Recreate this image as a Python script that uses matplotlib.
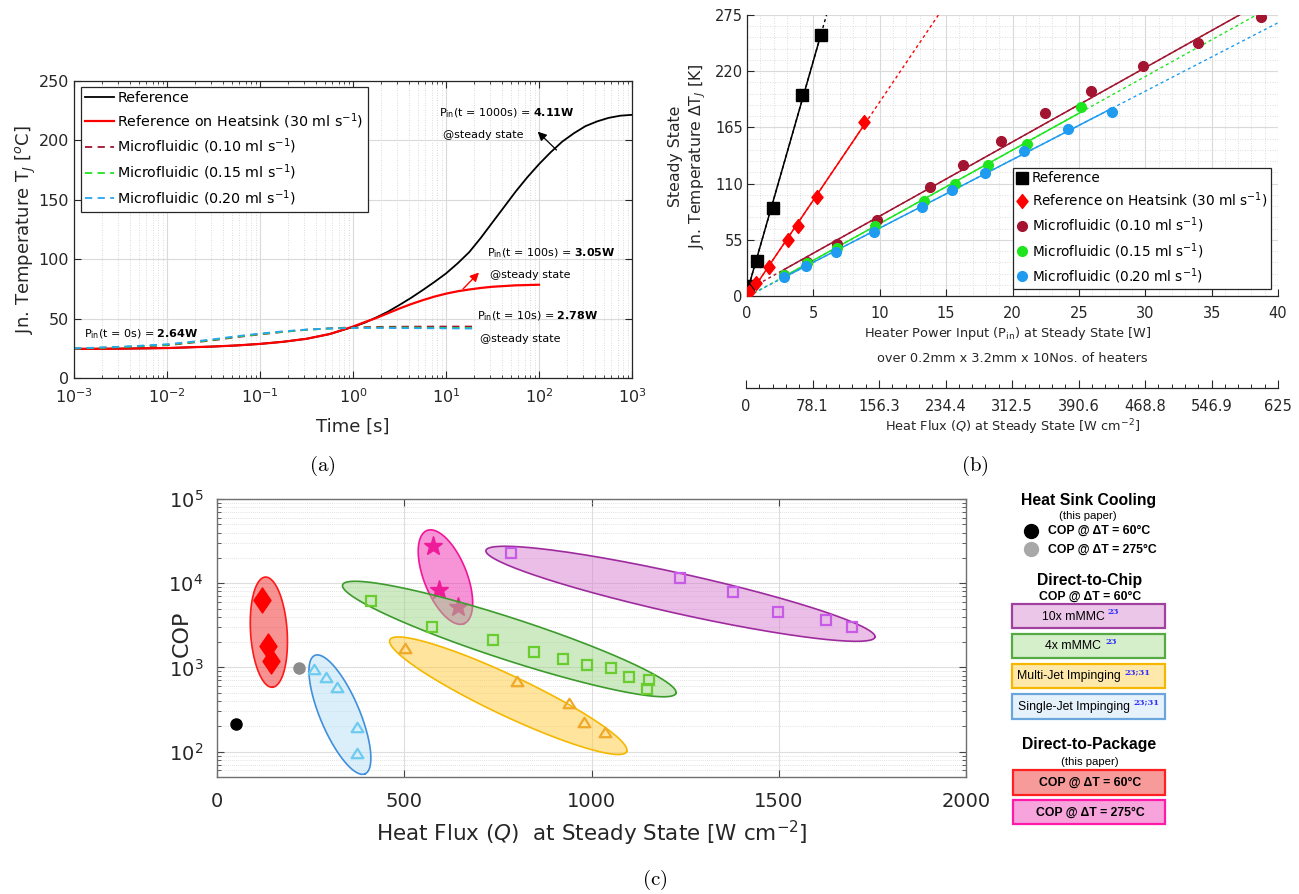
import numpy as np
import matplotlib
matplotlib.use("Agg")
import matplotlib.pyplot as plt
from matplotlib.ticker import MultipleLocator, LogLocator, NullFormatter
from matplotlib.patches import Rectangle
from matplotlib.lines import Line2D
from matplotlib.path import Path

# ======================= DATA =======================
# (a) transient junction temperature
t_ref = [0.001, 0.00316, 0.01, 0.0316, 0.0562, 0.1, 0.178, 0.316, 0.562, 1.0, 1.334, 1.78,
         2.371, 3.16, 4.217, 5.62, 7.499, 10, 13.34, 17.8, 23.71, 31.6, 42.17, 56.2, 74.99,
         100, 133.4, 178, 237.1, 316, 421.7, 562, 749.9, 1000]
T_ref = [24.5, 24.7, 25.2, 26.5, 27.4, 28.7, 30.5, 33.0, 37.0, 43.0, 46.5, 51.0,
         55.8, 61.5, 67.5, 74.0, 80.8, 88.0, 96.5, 106.0, 118.0, 131.0, 144.0, 157.0, 169.0,
         180.0, 190.0, 199.0, 206.0, 212.0, 216.0, 219.0, 220.8, 221.5]
t_hs = [0.001, 0.00316, 0.01, 0.0316, 0.0562, 0.1, 0.178, 0.316, 0.562, 1.0, 1.334, 1.78,
        2.371, 3.16, 4.217, 5.62, 7.499, 10, 13.34, 17.8, 23.71, 31.6, 56.2, 100]
T_hs = [24.5, 24.7, 25.2, 26.5, 27.4, 28.7, 30.5, 33.0, 37.0, 43.3, 47.0, 50.5,
        54.5, 58.5, 62.2, 65.5, 68.5, 71.0, 73.0, 74.5, 75.8, 76.8, 78.0, 78.5]
t_mf = [0.001, 0.00316, 0.01, 0.0178, 0.0316, 0.0562, 0.1, 0.178, 0.316, 0.562,
        1.0, 1.78, 3.16, 10, 20]
T_mf10 = [24.8, 25.8, 27.6, 29.6, 31.8, 34.4, 36.7, 38.8, 40.6, 41.8, 42.6, 43.0, 43.2, 43.3, 43.3]
T_mf15 = [24.8, 26.0, 28.0, 30.0, 32.2, 34.8, 37.0, 39.0, 40.6, 41.6, 42.2, 42.4, 42.4, 42.2, 42.0]
T_mf20 = [24.9, 26.3, 28.4, 30.4, 32.6, 35.2, 37.4, 39.3, 40.8, 41.7, 42.1, 42.1, 42.0, 41.8, 41.6]
a_labels = ['Reference', 'Reference on Heatsink (30 ml s$^{-1}$)',
            'Microfluidic (0.10 ml s$^{-1}$)', 'Microfluidic (0.15 ml s$^{-1}$)',
            'Microfluidic (0.20 ml s$^{-1}$)']

# (b) steady-state junction temperature rise vs heater power
b_ref_p = [0.05, 0.73, 1.93, 4.17, 5.58]
b_ref_t = [10.1, 34.6, 85.8, 196.7, 255.4]
b_hs_p = [0.16, 0.69, 1.62, 3.06, 3.84, 5.27, 8.80]
b_hs_t = [3.9, 12.4, 28.3, 54.7, 68.3, 97.0, 170.2]
b_m10_p = [2.75, 4.52, 6.80, 9.77, 13.76, 16.26, 19.10, 22.43, 25.90, 29.80, 34.0, 38.72]
b_m10_t = [20.2, 33.5, 51.1, 74.2, 106.7, 128.5, 151.3, 179.0, 201.1, 225.5, 248.0, 273.4]
b_m15_p = [2.75, 4.52, 6.77, 9.67, 13.32, 15.66, 18.19, 21.12, 25.18]
b_m15_t = [20.8, 32.5, 47.2, 68.3, 93.4, 110.0, 127.9, 148.7, 184.9]
b_m20_p = [2.78, 4.46, 6.68, 9.55, 13.17, 15.44, 17.94, 20.90, 24.15, 27.46]
b_m20_t = [18.6, 29.3, 43.0, 62.5, 87.2, 104.1, 120.4, 142.2, 163.0, 179.6]
b_labels = ['Reference', 'Reference on Heatsink (30 ml s$^{-1}$)',
            'Microfluidic (0.10 ml s$^{-1}$)', 'Microfluidic (0.15 ml s$^{-1}$)',
            'Microfluidic (0.20 ml s$^{-1}$)']
hf_labels = ['0', '78.1', '156.3', '234.4', '312.5', '390.6', '468.8', '546.9', '625']

# (c) COP vs heat flux
hs60_q, hs60_cop = [51], [213]
hs275_q, hs275_cop = [219], [977]
dtp60_q = [121, 136, 145]
dtp60_cop = [6240, 1820, 1200]
dtp275_q = [578, 593, 643]
dtp275_cop = [27400, 8350, 5200]
sj_q = [260, 292, 321, 373, 373]
sj_cop = [960, 764, 582, 194, 97]
mj_q = [501, 802, 940, 979, 1037]
mj_cop = [1722, 692, 375, 227, 170]
m4_q = [411, 574, 736, 847, 924, 987, 1053, 1099, 1153, 1148]
m4_cop = [6070, 3060, 2125, 1545, 1253, 1072, 979, 778, 711, 550]
m10_q = [785, 1235, 1377, 1497, 1625, 1695]
m10_cop = [22800, 11500, 7840, 4570, 3640, 3010]
# group ellipses: major-axis tips (Q, COP)
ell_red = [(129, 11830), (148, 582)]
ell_mag = [(560.6, 42250), (659.4, 3310)]
ell_sj = [(261.2, 1390), (395.2, 54.5)]
ell_m4 = [(335.4, 9570), (1225.5, 494)]
ell_mj = [(461.7, 2130), (1093.9, 100)]
ell_m10 = [(718.1, 24490), (1757, 2290)]

# ======================= FIGURE =======================
W, H = 1299, 894
plt.rcParams['font.family'] = ['DejaVu Sans']
plt.rcParams['mathtext.fontset'] = 'dejavusans'
fig = plt.figure(figsize=(W / 100, H / 100), dpi=100)
DARK = '#262626'


def rect(l, t, r, b):
    return [l / W, 1 - b / H, (r - l) / W, (b - t) / H]


def fx(x):
    return x / W


def fy(y):
    return 1 - y / H


# ----------------------- (a) -----------------------
axa = fig.add_axes(rect(74, 81, 632, 378))
axa.plot(t_ref, T_ref, color='black', lw=1.3, label=a_labels[0])
axa.plot(t_hs, T_hs, color='#FF0000', lw=1.6, label=a_labels[1])
for T, c, lab in [(T_mf10, '#A2142F', a_labels[2]), (T_mf15, '#1FE51F', a_labels[3]),
                  (T_mf20, '#27A4F2', a_labels[4])]:
    axa.plot(t_mf, T, color=c, lw=1.3, ls=(0, (4, 3)), label=lab)
axa.set_xscale('log')
axa.set_xlim(1e-3, 1e3)
axa.set_ylim(0, 250)
axa.set_yticks([0, 50, 100, 150, 200, 250])
axa.xaxis.set_minor_locator(LogLocator(base=10, subs=np.arange(2, 10), numticks=30))
axa.xaxis.set_minor_formatter(NullFormatter())
axa.grid(True, which='major', color='#dadada', lw=0.8)
axa.grid(True, which='minor', axis='x', color='#cfcfcf', lw=0.6, ls=(0, (1, 2)))
axa.set_axisbelow(True)
axa.tick_params(which='both', direction='in', top=True, right=True, colors=DARK, labelsize=11.5)
axa.tick_params(which='major', length=5, width=0.8)
axa.tick_params(which='minor', length=2.5, width=0.6)
axa.tick_params(axis='x', pad=7)
for s in axa.spines.values():
    s.set_color(DARK)
    s.set_linewidth(0.9)
leg = axa.legend(loc='upper left', bbox_to_anchor=(0.0125, 0.98), borderaxespad=0,
                 fontsize=10.3, frameon=True, fancybox=False, edgecolor=DARK, framealpha=1,
                 handlelength=2.0, handletextpad=0.25, labelspacing=0.42, borderpad=0.3)
leg.get_frame().set_linewidth(0.9)
fig.text(fx(26), fy(230), 'Jn. Temperature T$_J$ [$^o$C]', rotation=90, ha='center',
         va='center', fontsize=13, color=DARK)
fig.text(fx(353), fy(427), 'Time [s]', ha='center', va='center', fontsize=13, color=DARK)

fs_ann = 8
fig.text(fx(84), fy(337), r'P$_{\rm in}$(t = 0s) = $\mathbf{2.64W}$', fontsize=fs_ann)
fig.text(fx(439), fy(116), r'P$_{\rm in}$(t = 1000s) = $\mathbf{4.11W}$', fontsize=fs_ann)
fig.text(fx(443), fy(138), '@steady state', fontsize=fs_ann)
fig.text(fx(487), fy(256), r'P$_{\rm in}$(t = 100s) = $\mathbf{3.05W}$', fontsize=fs_ann)
fig.text(fx(490), fy(278), '@steady state', fontsize=fs_ann)
fig.text(fx(477), fy(319), r'P$_{\rm in}$(t = 10s) = $\mathbf{2.78W}$', fontsize=fs_ann)
fig.text(fx(480), fy(342), '@steady state', fontsize=fs_ann)
axa.annotate('', xy=(537.7, H - 131.7), xycoords='figure pixels', xytext=(556.5, H - 150),
             textcoords='figure pixels',
             arrowprops=dict(arrowstyle='-|>', color='black', lw=0.9, mutation_scale=13,
                             shrinkA=0, shrinkB=0))
axa.annotate('', xy=(479, H - 272.5), xycoords='figure pixels', xytext=(463, H - 289),
             textcoords='figure pixels',
             arrowprops=dict(arrowstyle='-|>', color='#FF0000', lw=1.0, mutation_scale=13,
                             shrinkA=0, shrinkB=0))

# ----------------------- (b) -----------------------
axb = fig.add_axes(rect(747, 15, 1278, 296))
axb.set_xlim(0, 40)
axb.set_ylim(0, 275)
diamond_b = Path([(0, 1), (0.8, 0), (0, -1), (-0.8, 0), (0, 1)], closed=True)
b_series = [
    (b_ref_p, b_ref_t, 'black', 's', 8, b_labels[0]),
    (b_hs_p, b_hs_t, '#FF0000', diamond_b, 10, b_labels[1]),
    (b_m10_p, b_m10_t, '#A2142F', 'o', 7, b_labels[2]),
    (b_m15_p, b_m15_t, '#1FE51F', 'o', 7, b_labels[3]),
    (b_m20_p, b_m20_t, '#1F9CF0', 'o', 7, b_labels[4]),
]
for p, t, col, mk, ms, lab in b_series:
    m, c0 = np.polyfit(p, t, 1)
    x_end = min(40.0, (275 - c0) / m)
    x_start = max(0.0, -c0 / m)
    axb.plot([x_start, x_end], [m * x_start + c0, m * x_end + c0], color=col, lw=1.0,
             ls=(0, (2.2, 2.2)), zorder=2)
    axb.plot([p[0], p[-1]], [m * p[0] + c0, m * p[-1] + c0], color=col, lw=1.1, zorder=2)
for p, t, col, mk, ms, lab in b_series:
    axb.plot(p, t, ls='none', marker=mk, ms=ms, color=col, mec=col, label=lab, zorder=3)
axb.set_xticks(np.arange(0, 41, 5))
axb.set_yticks([0, 55, 110, 165, 220, 275])
axb.xaxis.set_minor_locator(MultipleLocator(1))
axb.yaxis.set_minor_locator(MultipleLocator(11))
axb.grid(True, which='major', color='#dadada', lw=0.8)
axb.grid(True, which='minor', color='#d2d2d2', lw=0.6, ls=(0, (1, 2)))
axb.set_axisbelow(True)
axb.tick_params(which='major', direction='in', length=5, width=0.8, colors=DARK, labelsize=10.5)
axb.tick_params(which='minor', length=0)
axb.tick_params(axis='x', pad=7)
axb.tick_params(axis='y', pad=3)
axb.spines['top'].set_visible(False)
axb.spines['right'].set_visible(False)
for s in ['left', 'bottom']:
    axb.spines[s].set_color(DARK)
    axb.spines[s].set_linewidth(0.9)
legb = axb.legend(loc='upper left', bbox_to_anchor=(0.501, 0.4555), borderaxespad=0,
                  fontsize=9.8, frameon=True, fancybox=False, edgecolor=DARK, framealpha=1,
                  handlelength=0.8, handletextpad=0.35, labelspacing=0.4, borderpad=0.25)
legb.get_frame().set_linewidth(0.9)
fig.text(fx(688), fy(156), 'Steady State\nJn. Temperature $\\Delta$T$_J$ [K]', rotation=90,
         ha='center', va='center', multialignment='center', fontsize=11.3, linespacing=1.25,
         color=DARK)
fig.text(fx(1008), fy(333), 'Heater Power Input (P$_{\\rm in}$) at Steady State [W]',
         ha='center', va='center', fontsize=9.3, color=DARK)
fig.text(fx(1012), fy(358), 'over 0.2mm x 3.2mm x 10Nos. of heaters', ha='center',
         va='center', fontsize=9.3, color=DARK)

axb2 = fig.add_axes(rect(746, 387, 1278, 388))
axb2.set_xlim(0, 625)
axb2.set_ylim(0, 1)
axb2.patch.set_visible(False)
for s in ['top', 'left', 'right']:
    axb2.spines[s].set_visible(False)
axb2.spines['bottom'].set_color(DARK)
axb2.spines['bottom'].set_linewidth(0.9)
axb2.set_yticks([])
axb2.set_xticks(np.linspace(0, 625, len(hf_labels)))
axb2.set_xticklabels(hf_labels)
axb2.xaxis.set_minor_locator(MultipleLocator(625 / 40))
axb2.tick_params(axis='x', which='major', direction='in', length=6, width=0.8, colors=DARK,
                 labelsize=10.5, pad=8)
axb2.tick_params(axis='x', which='minor', direction='in', length=3, width=0.7, colors=DARK)
fig.text(fx(1013), fy(427), 'Heat Flux ($\\mathit{Q}$) at Steady State [W cm$^{-2}$]',
         ha='center', va='center', fontsize=9.3, color=DARK)

# ----------------------- (c) -----------------------
axc = fig.add_axes(rect(217, 499, 966, 777))
axc.set_xlim(0, 2000)
axc.set_yscale('log')
axc.set_ylim(50, 1e5)
axc.set_xticks([0, 500, 1000, 1500, 2000])
axc.set_yticks([1e2, 1e3, 1e4, 1e5])
axc.yaxis.set_minor_locator(LogLocator(base=10, subs=np.arange(2, 10), numticks=30))
axc.yaxis.set_minor_formatter(NullFormatter())
axc.grid(True, which='major', color='#dedede', lw=0.8)
axc.grid(True, which='minor', axis='y', color='#d8d8d8', lw=0.6, ls=(0, (1, 1.5)))
axc.set_axisbelow(True)
axc.tick_params(which='both', direction='in', top=True, right=True, colors='#444444',
                labelcolor=DARK, labelsize=14)
axc.tick_params(which='major', length=5, width=0.8)
axc.tick_params(which='minor', length=3, width=0.6)
axc.tick_params(axis='x', pad=11)
axc.tick_params(axis='y', pad=10)
for s in axc.spines.values():
    s.set_color('#707070')
    s.set_linewidth(1.0)


def draw_ellipse(ax, tips, half_minor_px, face, edge, z):
    p1 = ax.transData.transform(tips[0])
    p2 = ax.transData.transform(tips[1])
    c = (p1 + p2) / 2
    v = (p2 - p1) / 2
    a = np.hypot(*v)
    n = np.array([-v[1], v[0]]) / a
    th = np.linspace(0, 2 * np.pi, 300)
    pts = c + np.outer(np.cos(th), v) + np.outer(np.sin(th), n * half_minor_px)
    d = ax.transData.inverted().transform(pts)
    ax.fill(d[:, 0], d[:, 1], facecolor=face, alpha=0.5, edgecolor='none', zorder=z)
    ax.plot(d[:, 0], d[:, 1], color=edge, lw=1.2, zorder=z + 0.1)


diamond_c = Path([(0, 1), (0.68, 0), (0, -1), (-0.68, 0), (0, 1)], closed=True)
tri = Path([(0, 0.8), (1, -0.8), (-1, -0.8), (0, 0.8)], closed=True)

draw_ellipse(axc, ell_m10, 20, '#D67FCF', '#9E2B9E', 2)
axc.plot(m10_q, m10_cop, ls='none', marker='s', ms=7, mfc='none', mec='#C85AE8', mew=1.6, zorder=2.5)
draw_ellipse(axc, ell_mag, 21.5, '#EE2AB0', '#F0169A', 3)
axc.plot(dtp275_q, dtp275_cop, ls='none', marker='*', ms=14, color='#EE1C98', mec='#EE1C98', zorder=3.5)
draw_ellipse(axc, ell_mj, 20, '#FFCB3F', '#F5B800', 4)
axc.plot(mj_q, mj_cop, ls='none', marker=tri, ms=8.5, mfc='none', mec='#F0A828', mew=1.6, zorder=4.5)
draw_ellipse(axc, ell_m4, 21, '#9CD686', '#3C9B2C', 5)
axc.plot(m4_q, m4_cop, ls='none', marker='s', ms=7, mfc='none', mec='#6ACD2E', mew=1.6, zorder=5.5)
draw_ellipse(axc, ell_sj, 19.7, '#B8E0F7', '#3F8FDB', 6)
axc.plot(sj_q, sj_cop, ls='none', marker=tri, ms=8.5, mfc='none', mec='#6DCBF0', mew=1.6, zorder=6.5)
draw_ellipse(axc, ell_red, 18.3, '#F02828', '#FF1A1A', 7)
axc.plot(dtp60_q, dtp60_cop, ls='none', marker=diamond_c, ms=18, color='#FF0000', zorder=7.5)
axc.plot(hs60_q, hs60_cop, ls='none', marker='o', ms=8, color='black', zorder=8)
axc.plot(hs275_q, hs275_cop, ls='none', marker='o', ms=8, color='#8C8C8C', zorder=8)

fig.text(fx(182), fy(634), 'COP', rotation=90, ha='center', va='center', fontsize=16, color=DARK)
fig.text(fx(592), fy(833), 'Heat Flux ($\\mathit{Q}$)  at Steady State [W cm$^{-2}$]',
         ha='center', va='center', fontsize=15.5, color=DARK)

# ---------- (c) legend panel ----------
LF = ['Liberation Sans', 'DejaVu Sans']


def ftext(x, y, s, size, bold=False, ha='center', color='black', fam=None):
    fig.text(fx(x), fy(y), s, ha=ha, va='center', fontsize=size,
             fontweight='bold' if bold else 'normal', family=fam or LF, color=color)


def fbox(t, b, face, edge, l=1012.5, r=1164.5):
    fig.patches.append(Rectangle((fx(l), fy(b)), (r - l) / W, (b - t) / H,
                                 transform=fig.transFigure, facecolor=face, edgecolor=edge,
                                 lw=1.6))


ftext(1088.5, 500, 'Heat Sink Cooling', 11.3, bold=True)
ftext(1088, 516, '(this paper)', 8.2)
fig.add_artist(Line2D([fx(1031)], [fy(530.7)], marker='o', ms=10, color='black',
                      transform=fig.transFigure))
fig.add_artist(Line2D([fx(1031)], [fy(549.3)], marker='o', ms=10, color='#A8A8A8',
                      transform=fig.transFigure))
ftext(1047.7, 530.7, 'COP @ ΔT = 60°C', 8.8, bold=True, ha='left')
ftext(1047.7, 549.3, 'COP @ ΔT = 275°C', 8.8, bold=True, ha='left')
ftext(1090, 581, 'Direct-to-Chip', 11.3, bold=True)
ftext(1090, 597, 'COP @ ΔT = 60°C', 8.8, bold=True)

fbox(604.3, 628.3, '#ECC6E8', '#A040A0')
fbox(634, 658.3, '#D5EFCB', '#55AA44')
fbox(664, 688.3, '#FFE9AA', '#F5B700')
fbox(694, 719, '#E6F2FB', '#6AA5DC')
SUPC = '#3030FF'
SF = ['DejaVu Serif']
ftext(1042.3, 616.5, '10x mMMC', 8.8, ha='left')
ftext(1107.7, 612, '23', 6, ha='left', color=SUPC, fam=SF, bold=True)
ftext(1045, 646.3, '4x mMMC', 8.8, ha='left')
ftext(1105, 642, '23', 6, ha='left', color=SUPC, fam=SF, bold=True)
ftext(1016.7, 676.3, 'Multi-Jet Impinging', 8.8, ha='left')
ftext(1124.3, 672, '23;31', 6, ha='left', color=SUPC, fam=SF, bold=True)
ftext(1017.7, 706.8, 'Single-Jet Impinging', 8.8, ha='left')
ftext(1133.3, 702.5, '23;31', 6, ha='left', color=SUPC, fam=SF, bold=True)

ftext(1089, 745, 'Direct-to-Package', 11.3, bold=True)
ftext(1090, 761.7, '(this paper)', 8.2)
fbox(770, 795, '#F69A9A', '#FF2020', l=1012.7, r=1165)
fbox(800, 824.3, '#F7A3DC', '#FF1AA8', l=1012.7, r=1165)
ftext(1090, 782.5, 'COP @ ΔT = 60°C', 8.8, bold=True)
ftext(1090, 812.3, 'COP @ ΔT = 275°C', 8.8, bold=True)

# ---------- captions ----------
for x, y, s in [(322, 466, '(a)'), (975, 466, '(b)'), (655, 880, '(c)')]:
    fig.text(fx(x), fy(y), '$\\mathrm{' + s + '}$', math_fontfamily='cm', fontsize=15,
             ha='center', va='center')

fig.savefig('out.png', dpi=100)
